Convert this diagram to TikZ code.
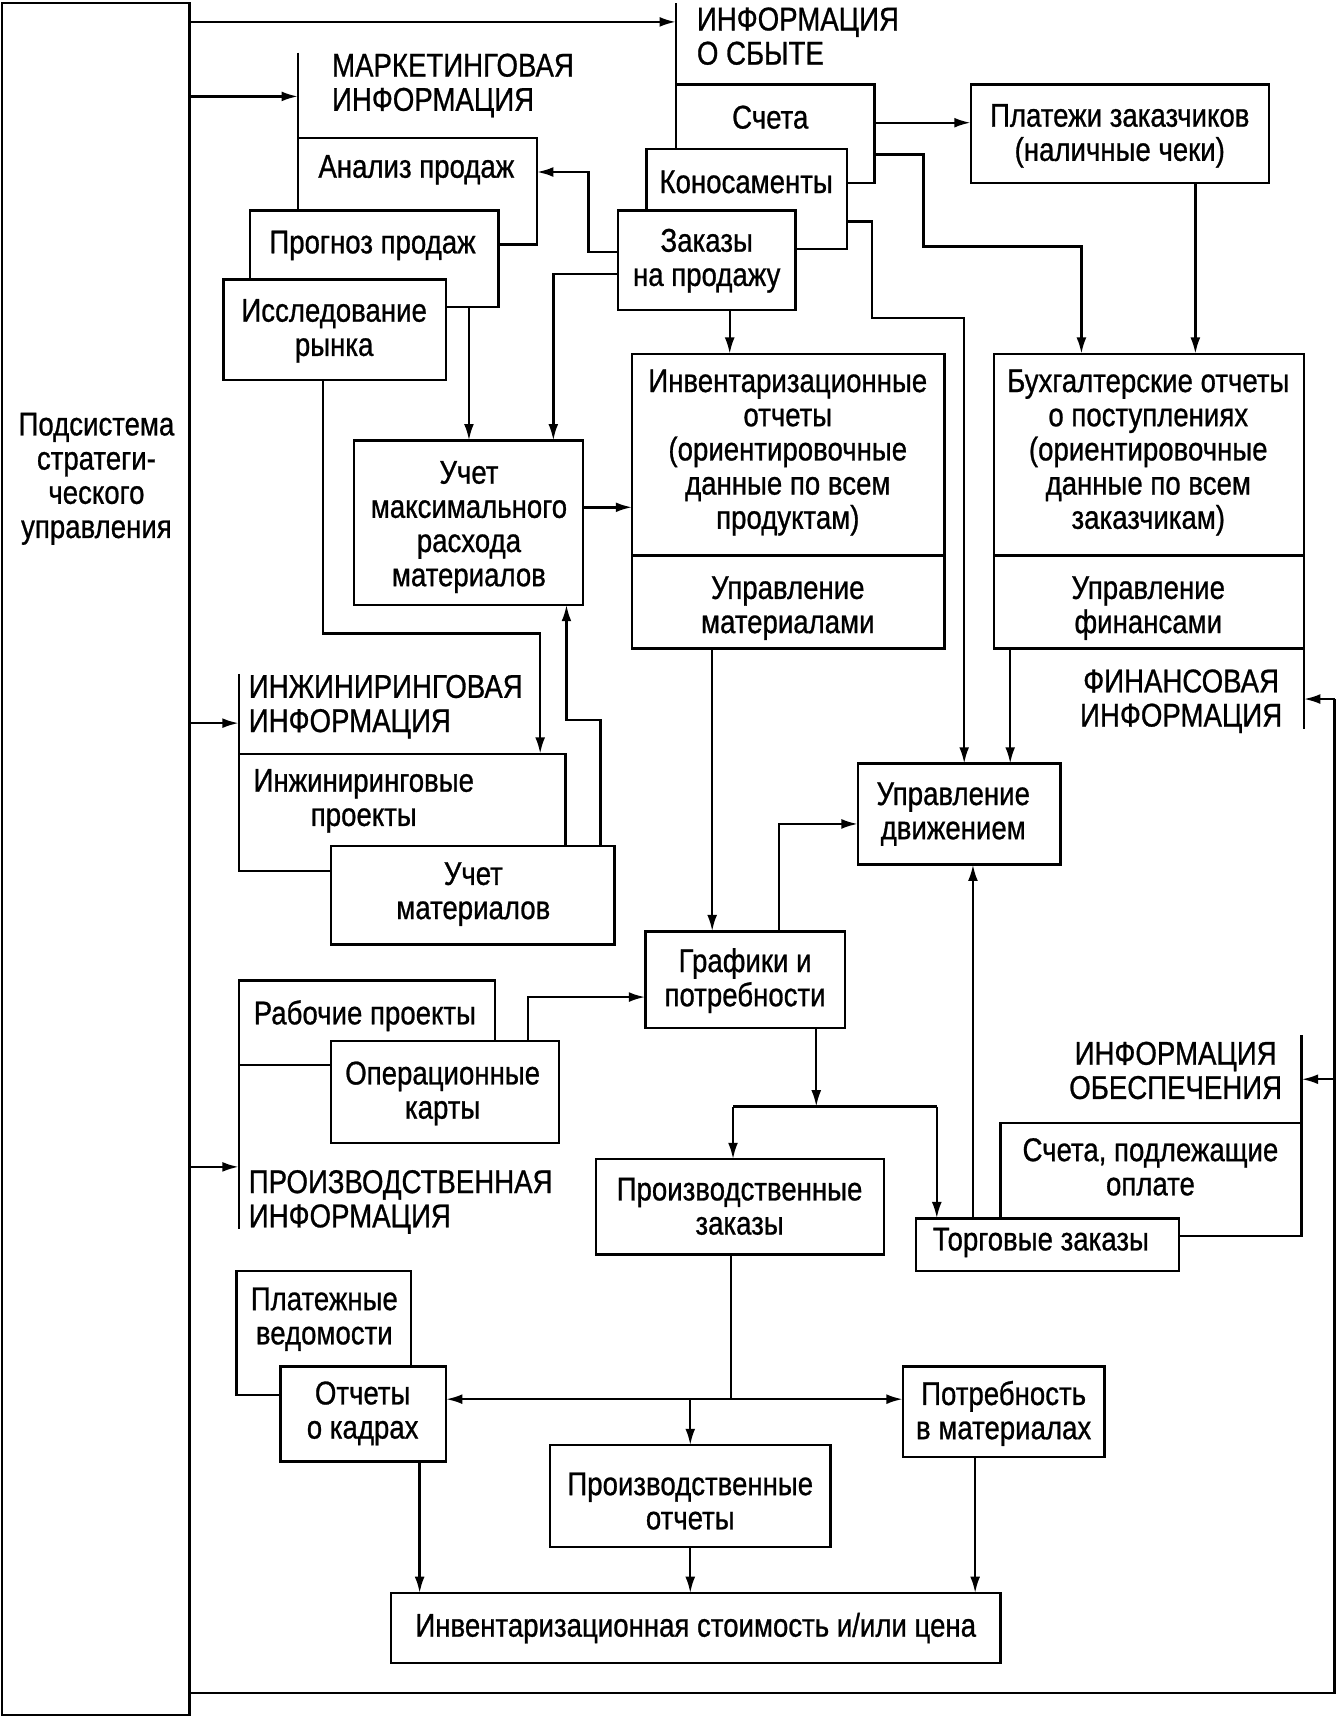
\documentclass[tikz,border=0pt]{standalone}
\usepackage{fontspec}
\setmainfont{Liberation Sans}[FakeStretch=0.84,FakeBold=0.8]
\usetikzlibrary{arrows.meta}
\newcommand\dfont{\fontsize{15}{15.6}\selectfont}
\newcommand\mybox[5]{\node[boxst, minimum width={(#4-#2)*0.5pt}, minimum height={(#5-#3)*0.5pt}] (#1) at ({(#2+#4)/2},{(#3+#5)/2}) {};}
\begin{document}
\begin{tikzpicture}[x=0.5pt,y=-0.5pt, line width=1.1pt, line join=miter,
 boxst/.style={draw, fill=white, inner sep=0pt, outer sep=0pt},
 txt/.style={align=center, inner sep=0pt, font=\dfont},
 hd/.style={align=left, anchor=west, inner sep=0pt, font=\dfont},
 arr/.style={-{Latex[length=7.5pt,width=4.5pt]}},
 darr/.style={{Latex[length=7.5pt,width=4.5pt]}-{Latex[length=7.5pt,width=4.5pt]}}]
\fill[white] (0,0) rectangle (1226,1568);
\useasboundingbox (0,0) rectangle (1226,1568);
% left subsystem
\mybox{L}{2}{3}{173}{1565}
% sales group
\mybox{schet}{617}{77}{798}{167}
\mybox{kon}{590}{136}{773}{227}
\mybox{zak}{564}{192}{726}{283}
\mybox{plat}{886}{77}{1158}{167}
% marketing group
\mybox{anal}{272}{126}{490}{223}
\mybox{prog}{228}{192}{455}{280}
\mybox{issl}{204}{255}{407}{347}
% middle
\mybox{umax}{323}{402}{532}{552}
\mybox{inv}{577}{323}{862}{592}
\mybox{buh}{907}{323}{1190}{592}
\mybox{udv}{783}{697}{968}{789}
\mybox{graf}{589}{850}{771}{938}
% engineering
\mybox{ingp}{218}{688}{516}{795}
\mybox{umat}{302}{772}{561}{862}
% production
\mybox{rab}{218}{895}{452}{972}
\mybox{oper}{302}{950}{510}{1043}
\mybox{pzak}{544}{1058}{807}{1145}
\mybox{schop}{913}{1025}{1188}{1128}
\mybox{torg}{836}{1112}{1076}{1160}
\mybox{plv}{216}{1160}{375}{1273}
\mybox{okadr}{256}{1247}{407}{1334}
\mybox{potr}{824}{1247}{1008}{1330}
\mybox{potch}{502}{1319}{758}{1412}
\mybox{invst}{357}{1454}{913}{1518}
% dividers
\draw (inv.west |- 0,507) -- (inv.east |- 0,507);
\draw (buh.west |- 0,507) -- (buh.east |- 0,507);
% group lines
\coordinate (sg) at (617,3);
\coordinate (mg) at (272,48);
\coordinate (eg) at (218,615);
\coordinate (pg) at (218,1122);
\coordinate (fg) at (1190,665);
\coordinate (og) at (1188,945);
\coordinate (rt) at (1218,638);
\draw (sg) -- (schet.north west);
\draw (mg) -- (anal.north west);
\draw (eg) -- (ingp.north west);
\draw (rab.south west) -- (pg);
\draw (buh.south east) -- (fg);
\draw (og) -- (schop.north east);
% texts
\node[txt] (tL) at (88,437) {Подсистема\\стратеги-\\ческого\\управления};
\node[hd] (hS) at (635,33) {ИНФОРМАЦИЯ\\О СБЫТЕ};
\node[txt] (tschet) at (703,107) {Счета};
\node[txt] (tkon) at (681,166) {Коносаменты};
\node[txt] (tzak) at (645,238) {Заказы\\на продажу};
\node[txt] (tplat) at (1022,124) {Платежи заказчиков\\(наличные чеки)};
\node[hd] (hM) at (302,78) {МАРКЕТИНГОВАЯ\\ИНФОРМАЦИЯ};
\node[txt] (tanal) at (380,155) {Анализ продаж};
\node[txt] (tprog) at (340,224) {Прогноз продаж};
\node[txt] (tissl) at (305,302) {Исследование\\рынка};
\node[txt] (tumax) at (428,481) {Учет\\максимального\\расхода\\материалов};
\node[txt] (tinv) at (719,413) {Инвентаризационные\\отчеты\\(ориентировочные\\данные по всем\\продуктам)};
\node[txt] (tinv2) at (719,555) {Управление\\материалами};
\node[txt] (tbuh) at (1048,413) {Бухгалтерские отчеты\\о поступлениях\\(ориентировочные\\данные по всем\\заказчикам)};
\node[txt] (tbuh2) at (1048,555) {Управление\\финансами};
\node[txt] (hF) at (1078,640) {ФИНАНСОВАЯ\\ИНФОРМАЦИЯ};
\node[txt] (tudv) at (870,743) {Управление\\движением};
\node[txt] (tgraf) at (680,895) {Графики и\\потребности};
\node[hd] (hE) at (226,645) {ИНЖИНИРИНГОВАЯ\\ИНФОРМАЦИЯ};
\node[txt] (tingp) at (332,731) {Инжиниринговые\\проекты};
\node[txt] (tumat) at (432,816) {Учет\\материалов};
\node[txt] (trab) at (333,927) {Рабочие проекты};
\node[txt] (toper) at (404,998) {Операционные\\карты};
\node[hd] (hP) at (226,1097) {ПРОИЗВОДСТВЕННАЯ\\ИНФОРМАЦИЯ};
\node[txt] (tpzak) at (675,1101) {Производственные\\заказы};
\node[txt] (ttorg) at (950,1134) {Торговые заказы};
\node[txt] (tschop) at (1050,1065) {Счета, подлежащие\\оплате};
\node[txt] (hO) at (1073,977) {ИНФОРМАЦИЯ\\ОБЕСПЕЧЕНИЯ};
\node[txt] (tplv) at (296,1204) {Платежные\\ведомости};
\node[txt] (tokadr) at (331,1290) {Отчеты\\о кадрах};
\node[txt] (tpotr) at (916,1290) {Потребность\\в материалах};
\node[txt] (tpotch) at (630,1370) {Производственные\\отчеты};
\node[txt] (tinvst) at (635,1486) {Инвентаризационная стоимость и/или цена};
% connectors from left subsystem
\draw[arr] (L.east |- 0,20) -- (sg |- 0,20);
\draw[arr] (L.east |- 0,88) -- (mg |- 0,88);
\draw[arr] (L.east |- 0,660) -- (eg |- 0,660);
\draw[arr] (L.east |- 0,1065) -- (pg |- 0,1065);
\draw (L.east |- 0,1545) -| (rt);
\draw[arr] (rt) -- (fg |- rt);
\draw[arr] (rt |- 0,985) -- (og |- 0,985);
% sales
\draw[arr] (schet.east |- 0,112) -- (plat.west |- 0,112);
\draw[arr] (schet.east |- 0,141) -- (843,141) -- (843,225) -- (987,225) -- (buh.north -| 987,0);
\draw[arr] (plat.south -| 1091,0) -- (buh.north -| 1091,0);
\draw[arr] (kon.east |- 0,202) -- (796,202) -- (796,290) -- (880,290) -- (udv.north -| 880,0);
\draw[arr] (zak.west |- 0,230) -- (537,230) -- (537,157) -- (anal.east |- 0,157);
\draw[arr] (zak.west |- 0,250) -- (505,250) -- (umax.north -| 505,0);
\draw[arr] (zak.south -| 666,0) -- (inv.north -| 666,0);
% marketing
\draw[arr] (prog.south -| 428,0) -- (umax.north -| 428,0);
\draw[arr] (issl.south -| 295,0) -- (295,578) -- (493,578) -- (ingp.north -| 493,0);
% middle
\draw[arr] (umax.east |- 0,463) -- (inv.west |- 0,463);
\draw[arr] (umat.north -| 548,0) -- (548,657) -- (517,657) -- (umax.south -| 517,0);
\draw[arr] (inv.south -| 650,0) -- (graf.north -| 650,0);
\draw[arr] (buh.south -| 922,0) -- (udv.north -| 922,0);
\draw[arr] (graf.north -| 711,0) -- (711,752) -- (udv.west |- 0,752);
\draw[arr] (oper.north -| 482,0) -- (482,910) -- (graf.west |- 0,910);
% schedules split
\coordinate (sp) at (745,1010);
\draw[arr] (graf.south -| sp) -- (sp);
\draw (669,1010) -- (855,1010);
\draw[arr] (669,1010) -- (pzak.north -| 669,0);
\draw[arr] (855,1010) -- (torg.north -| 855,0);
\draw[arr] (torg.north -| 888,0) -- (udv.south -| 888,0);
% production orders split
\coordinate (sp2) at (667,1277);
\draw (pzak.south -| sp2) -- (sp2);
\draw[darr] (okadr.east |- sp2) -- (potr.west |- sp2);
\draw[arr] (630,1277) -- (potch.north -| 630,0);
\draw[arr] (okadr.south -| 383,0) -- (invst.north -| 383,0);
\draw[arr] (potch.south -| 630,0) -- (invst.north -| 630,0);
\draw[arr] (potr.south -| 890,0) -- (invst.north -| 890,0);
\end{tikzpicture}
\end{document}
